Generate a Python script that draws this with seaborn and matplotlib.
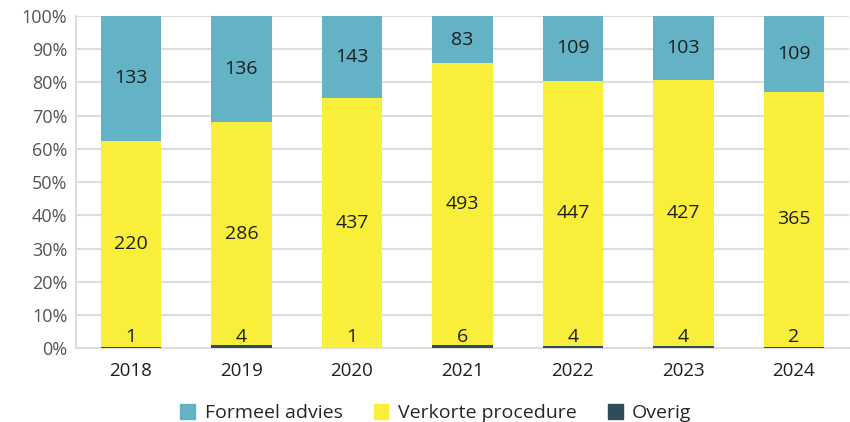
import numpy as np
import pandas as pd
import matplotlib
matplotlib.use("Agg")
import matplotlib.pyplot as plt
import seaborn as sns
from matplotlib.patches import Patch

# data
jaren = ["2018", "2019", "2020", "2021", "2022", "2023", "2024"]
overig = [1, 4, 1, 6, 4, 4, 2]
verkort = [220, 286, 437, 493, 447, 427, 365]
formeel = [133, 136, 143, 83, 109, 103, 109]

kleur_formeel = "#63B2C6"
kleur_verkort = "#F9EE3A"
kleur_overig = "#2E4D58"

sns.set_theme(style="white")
plt.rcParams['font.family'] = ['Open Sans', 'DejaVu Sans']

df = pd.DataFrame({"jaar": jaren, "overig": overig, "verkort": verkort, "formeel": formeel})
totaal = df[["overig", "verkort", "formeel"]].sum(axis=1)
df["p_overig"] = df["overig"] / totaal * 100
df["p_verkort"] = df["verkort"] / totaal * 100
df["p_formeel"] = df["formeel"] / totaal * 100

fig = plt.figure(figsize=(8.5, 4.22), dpi=100)
ax = fig.add_axes([0.089, 0.175, 0.91, 0.787])

breedte = 0.55
stijl = dict(width=breedte, saturation=1, linewidth=0, edgecolor="none", ax=ax, zorder=3)
sns.barplot(x="jaar", y="p_overig", data=df, color=kleur_overig, **stijl)
sns.barplot(x="jaar", y="p_verkort", data=df, color=kleur_verkort,
            bottom=df["p_overig"], **stijl)
sns.barplot(x="jaar", y="p_formeel", data=df, color=kleur_formeel,
            bottom=df["p_overig"] + df["p_verkort"], **stijl)

# labels
tekst = dict(ha="center", fontsize=14, color="#1E1E1E", zorder=4)
for i, r in df.iterrows():
    ax.text(i, 0.6, str(r["overig"]), va="bottom", **tekst)
    ax.text(i, r["p_overig"] + r["p_verkort"] / 2, str(r["verkort"]), va="center", **tekst)
    ax.text(i, r["p_overig"] + r["p_verkort"] + r["p_formeel"] / 2, str(r["formeel"]),
            va="center", **tekst)

ax.set_ylim(0, 100)
ax.set_xlim(-0.5, 6.5)
ax.set_yticks(range(0, 101, 10))
ax.set_yticklabels([f"{v}%" for v in range(0, 101, 10)], fontsize=13, color="#555555")
ax.tick_params(axis="x", labelsize=13.5, labelcolor="#1E1E1E", length=0, pad=10)
ax.tick_params(axis="y", length=0, pad=6)
ax.set_xlabel("")
ax.set_ylabel("")
ax.yaxis.grid(True, color="#DDDDDD", linewidth=1.5, zorder=0)
ax.set_axisbelow(True)
for s in ["top", "right"]:
    ax.spines[s].set_visible(False)
ax.spines["left"].set_color("#DDDDDD")
ax.spines["left"].set_linewidth(1.5)
ax.spines["bottom"].set_color("#DDDDDD")
ax.spines["bottom"].set_linewidth(1.5)

handles = [Patch(color=kleur_formeel, label="Formeel advies"),
           Patch(color=kleur_verkort, label="Verkorte procedure"),
           Patch(color=kleur_overig, label="Overig")]
fig.legend(handles=handles, loc="lower center", bbox_to_anchor=(0.513, -0.042), ncol=3,
           frameon=False, fontsize=14, handlelength=0.75, handleheight=0.75,
           handletextpad=0.5, columnspacing=1.6)

fig.savefig("out.png", dpi=100)
